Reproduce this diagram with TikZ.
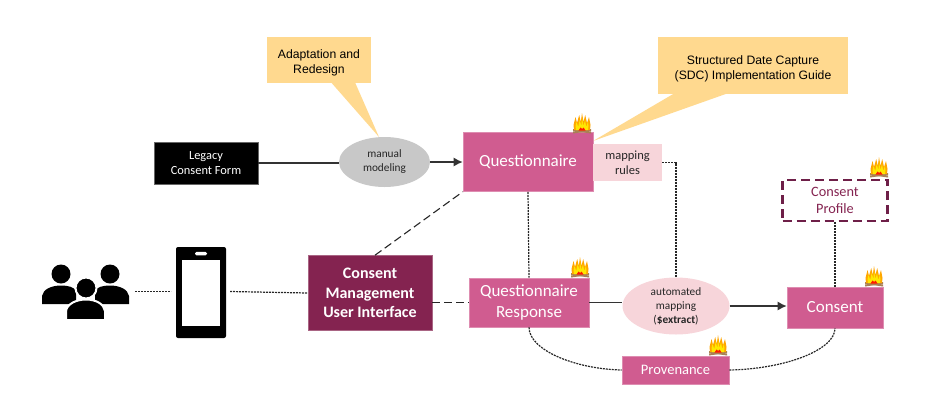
\documentclass[tikz,border=0pt]{standalone}
\usepackage{fontspec}
\setmainfont{Carlito}
\newfontfamily\calloutfont{Liberation Sans}
\usetikzlibrary{shapes.geometric,arrows.meta}

\definecolor{rosebox}{HTML}{D05C90}
\definecolor{wine}{HTML}{842350}
\definecolor{winedash}{HTML}{6E1F48}
\definecolor{paleRose}{HTML}{F7D5DA}
\definecolor{sand}{HTML}{FFD98F}
\definecolor{stone}{HTML}{C8C8C8}

\tikzset{
  resbox/.style={rectangle, fill=rosebox, draw=rosebox!70!white, line width=.6pt, text=white,
    align=center, inner sep=0pt, font=\fontsize{17}{20.5}\selectfont},
  step box/.style={ellipse, inner sep=0pt, align=center, text=black!85,
    font=\fontsize{11.3}{14}\selectfont},
  callout/.style={rectangle, fill=sand, inner sep=0pt, align=center,
    font=\calloutfont\fontsize{12.2}{15}\selectfont},
  plain link/.style={draw=black!80, line width=1.3pt},
  dot link/.style={draw=black!85, line width=1.2pt, dash pattern=on 2pt off 1pt},
  dash link/.style={draw=black!85, line width=1.1pt, dash pattern=on 8pt off 4pt},
  flame/.pic={
    \fill[brown!65!gray] (-9,-1.5) -- (9,-4) -- (9,-2) -- (-9,.5) -- cycle;
    \fill[brown!65!gray] (-9,-4) -- (9,-1.5) -- (9,.5) -- (-9,-2) -- cycle;
    \fill[orange!70!yellow] (-8,-3) -- (-8.5,-8) -- (-6.5,-16) -- (-5,-10) -- (-2.8,-18)
      -- (-1.2,-11) -- (0,-20) -- (1.5,-11) -- (3.2,-18) -- (5,-10) -- (7,-16)
      -- (8.5,-8) -- (8,-3) -- cycle;
    \fill[yellow!90!orange] (-6,-3) -- (-6.5,-7) -- (-5.5,-11) -- (-3.8,-6) -- (-2.3,-13)
      -- (-.6,-7) -- (0,-15) -- (1.5,-7) -- (3,-13) -- (4.2,-6) -- (5.8,-11) -- (6.5,-7)
      -- (6,-3) -- cycle;
    \fill[red!80!orange] (-3.5,-2.5) -- (-1.5,-5.5) -- (0,-4) -- (1.5,-5.5) -- (3.5,-2.5) -- cycle;
  }
}

\begin{document}
\begin{tikzpicture}[x=1pt,y=-1pt]
  \useasboundingbox (0,0) rectangle (936,416);

  %% callouts, tails first
  \fill[sand] (329,80) -- (379,137) -- (354,80) -- cycle;
  \fill[sand] (680,90) -- (593,141) -- (737,90) -- cycle;
  \node[callout, minimum width=104pt, minimum height=46pt] (adapt) at (319,60) {\rule{0pt}{15pt}Adaptation and\\Redesign};
  \node[callout, minimum width=190pt, minimum height=57pt] (sdc) at (753,65.5) {\rule{0pt}{15pt}Structured Date Capture\\(SDC) Implementation Guide};

  %% top row
  \node[rectangle, fill=black, draw=black!60, text=white, align=center, inner sep=0pt,
    minimum width=104pt, minimum height=42pt, font=\fontsize{12.4}{14.5}\selectfont]
    (legacy) at (206,163) {Legacy\\Consent Form};
  \node[step box, fill=stone, minimum width=91pt, minimum height=50pt] (manual) at (384.5,162) {manual\\modeling};
  \node[resbox, minimum width=130pt, minimum height=59pt] (quest) at (528,162) {Questionnaire};
  \node[rectangle, fill=paleRose, inner sep=0pt, align=center, text=black!85,
    minimum width=69pt, minimum height=37pt, font=\fontsize{12.5}{14.5}\selectfont]
    (rules) at (627.5,162.5) {mapping\\rules};

  %% people and phone
  \node[minimum width=87pt, minimum height=55pt, inner sep=0pt] (people) at (85.5,291.5) {};
  \fill (61,274) circle (9.5);
  \fill (110,274) circle (9.5);
  \fill (42,304) -- (42,296) .. controls (43,289) and (52,285.5) .. (61,285.5)
    .. controls (68,285.5) and (74,287) .. (76,291) -- (76,304) -- cycle;
  \fill (129,304) -- (129,296) .. controls (128,289) and (119,285.5) .. (110,285.5)
    .. controls (103,285.5) and (97,287) .. (95,291) -- (95,304) -- cycle;
  \fill[draw=white, line width=2pt] (86,288) circle (10.5);
  \fill[draw=white, line width=2pt] (66,320) -- (66,311) .. controls (67,304) and (76,299.5) .. (86,299.5)
    .. controls (96,299.5) and (104,304) .. (105,311) -- (105,320) -- cycle;
  \node[rectangle, fill=black, rounded corners=2pt, minimum width=50pt, minimum height=91pt, inner sep=0pt] (phone) at (201,292.5) {};
  \node[rectangle, fill=white, minimum width=38pt, minimum height=66pt, inner sep=0pt] (screen) at (201,293) {};
  \node[rectangle, fill=white, rounded corners=1.5pt, minimum width=12pt, minimum height=3.5pt, inner sep=0pt] (speaker) at (201,253.5) {};

  %% middle row
  \node[resbox, fill=wine, draw=wine!70!white, minimum width=124pt, minimum height=75pt,
    font=\bfseries\fontsize{16}{19.3}\selectfont] (cmui) at (370,293) {Consent\\Management\\User Interface};
  \node[resbox, minimum width=120pt, minimum height=49pt] (resp) at (529,302.5) {Questionnaire\\Response};
  \node[step box, fill=paleRose, minimum width=107pt, minimum height=57pt] (auto) at (676,306)
    {automated\\mapping\\(\textbf{\$extract})};
  \node[resbox, minimum width=96pt, minimum height=41pt] (consent) at (835,307.5) {\raisebox{-1pt}{Consent}};
  \node[resbox, minimum width=107pt, minimum height=28pt, font=\fontsize{14.5}{17}\selectfont] (prov) at (675.5,370) {Provenance};
  \node[rectangle, draw=winedash, line width=2.2pt, dash pattern=on 9pt off 5pt, text=wine, align=center, inner sep=0pt,
    minimum width=105pt, minimum height=41pt, font=\fontsize{14.3}{17}\selectfont] (profile) at (835,200.5) {Consent\\Profile};

  %% links
  \draw[plain link] (legacy.east) -- (manual.west |- legacy.east);
  \draw[plain link, -{Latex[length=9pt,width=9pt]}] (manual.east) -- (quest.west);
  \draw[dot link] (quest.south) -- (resp.north);
  \draw[dot link] (rules.east) -| (auto.north);
  \draw[dash link] (cmui.north) ++(5,0) coordinate (cmuiTop) (cmuiTop) -- (quest.south west);
  \draw[dash link] (cmui.east |- resp.west) -- (resp.west);
  \draw[dot link] (people.east) ++(6,0) coordinate (peopleEnd) (peopleEnd) -- ++(36,0);
  \draw[dot link] (phone.east) ++(4,-1) coordinate (phoneEnd) (phoneEnd) -- (cmui.west);
  \draw[plain link] (resp.east) -- (auto.west |- resp.east);
  \draw[plain link, -{Latex[length=9pt,width=9pt]}] (auto.east) -- (consent.west |- auto.east);
  \draw[dot link] (profile.south) -- (consent.north);
  \draw[dot link] (resp.south) .. controls (529,350) and (575,369) .. (prov.west);
  \draw[dot link] (prov.east) .. controls (785,369) and (835,350) .. (consent.south);

  %% flames
  \pic at (582,133) {flame};
  \pic at (580,277) {flame};
  \pic at (874,286) {flame};
  \pic at (879,177) {flame};
  \pic at (718,355) {flame};
\end{tikzpicture}
\end{document}
